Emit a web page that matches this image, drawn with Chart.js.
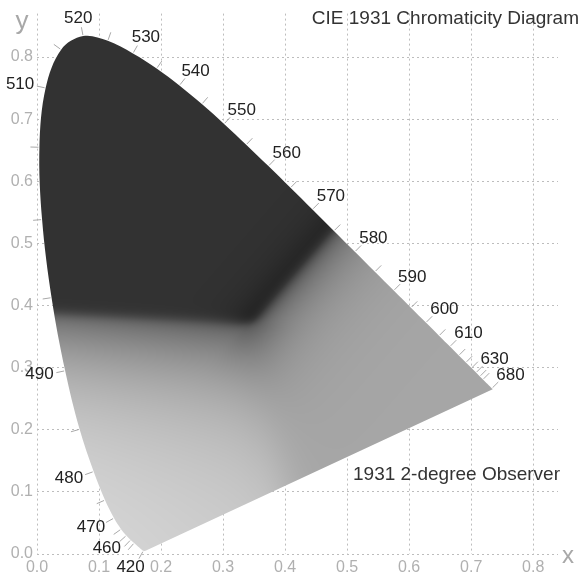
<!DOCTYPE html>
<html>
<head>
<meta charset="utf-8">
<script src="https://cdn.jsdelivr.net/npm/chart.js@4.4.0/dist/chart.umd.min.js"></script>
<style>
  body { margin: 0; background: #fff; }
  canvas { display: block; }
</style>
</head>
<body>
<canvas id="cie" width="582" height="584"></canvas>
<script>
// CIE 1931 2-degree spectral locus (nm -> x, y)
const wavelengths = [380, 385, 390, 395, 400, 405, 410, 415, 420, 425, 430, 435, 440, 445, 450, 455,
  460, 465, 470, 475, 480, 485, 490, 495, 500, 505, 510, 515, 520, 525, 530, 535, 540, 545, 550, 555,
  560, 565, 570, 575, 580, 585, 590, 595, 600, 605, 610, 615, 620, 625, 630, 635, 640, 645, 650, 655,
  660, 665, 670, 675, 680, 685, 690, 695, 700];
const locusX = [0.1741, 0.1740, 0.1738, 0.1736, 0.1733, 0.1730, 0.1726, 0.1721, 0.1714, 0.1703, 0.1689,
  0.1669, 0.1644, 0.1611, 0.1566, 0.1510, 0.1440, 0.1355, 0.1241, 0.1096, 0.0913, 0.0687, 0.0454,
  0.0235, 0.0082, 0.0039, 0.0139, 0.0389, 0.0743, 0.1142, 0.1547, 0.1929, 0.2296, 0.2658, 0.3016,
  0.3373, 0.3731, 0.4087, 0.4441, 0.4788, 0.5125, 0.5448, 0.5752, 0.6029, 0.6270, 0.6482, 0.6658,
  0.6801, 0.6915, 0.7006, 0.7079, 0.7140, 0.7190, 0.7230, 0.7260, 0.7283, 0.7300, 0.7311, 0.7320,
  0.7327, 0.7334, 0.7340, 0.7344, 0.7346, 0.7347];
const locusY = [0.0050, 0.0050, 0.0049, 0.0049, 0.0048, 0.0048, 0.0048, 0.0048, 0.0051, 0.0058, 0.0069,
  0.0086, 0.0109, 0.0138, 0.0177, 0.0227, 0.0297, 0.0399, 0.0578, 0.0868, 0.1327, 0.2007, 0.2950,
  0.4127, 0.5384, 0.6548, 0.7502, 0.8120, 0.8338, 0.8262, 0.8059, 0.7816, 0.7543, 0.7243, 0.6923,
  0.6589, 0.6245, 0.5896, 0.5547, 0.5202, 0.4866, 0.4544, 0.4242, 0.3965, 0.3725, 0.3514, 0.3340,
  0.3197, 0.3083, 0.2993, 0.2920, 0.2859, 0.2809, 0.2770, 0.2740, 0.2717, 0.2700, 0.2689, 0.2680,
  0.2673, 0.2666, 0.2660, 0.2656, 0.2654, 0.2653];

const labelWl = [420, 460, 470, 480, 490, 510, 520, 530, 540, 550, 560, 570, 580, 590, 600, 610, 630, 680];
const tickWl = [420, 450, 455, 460, 465, 470, 475, 480, 485, 490, 495, 500, 505, 510, 515, 520, 525, 530,
  535, 540, 545, 550, 555, 560, 565, 570, 575, 580, 585, 590, 595, 600, 605, 610, 615, 620, 625, 630, 635, 640, 680];

const xTicks = [0.0, 0.1, 0.2, 0.3, 0.4, 0.5, 0.6, 0.7, 0.8];
const yTicks = [0.0, 0.1, 0.2, 0.3, 0.4, 0.5, 0.6, 0.7, 0.8];

const FONT = '"Liberation Sans", Arial, sans-serif';

// grey shading of the gamut, a rough look-alike of the original rendering
function sig(t) { return 1 / (1 + Math.exp(-t)); }
function shadeAt(x, y) {
  const u = x - 0.345, v = y - 0.372;
  const s1 = 0.656 * v - 0.755 * u;   // > 0 : upper (dark) side of the 49deg line
  const s2 = v + 0.05 * u;            // > 0 : above the dark / light border
  const s3 = 0.208 * v + 0.978 * u;   // > 0 : right of the -78deg line
  let wD = sig(s1 / 0.006) * sig(s2 / 0.005);
  let wM = sig(-s1 / 0.006) * sig(s3 / 0.02);
  let wL = sig(-s2 / 0.005) * sig(-s3 / 0.02);
  const sum = wD + wM + wL;
  wD /= sum; wM /= sum; wL /= sum;
  const gD = 50 - 26 * Math.exp(-Math.max(s1, 0) / 0.025);
  const gM = 166 - 82 * Math.exp(-Math.max(-s1, 0) / 0.05);
  const t = Math.max(-s2, 0);
  const gL = 92 + 115 * (1 - Math.exp(-t / 0.11)) + 12 * Math.min(Math.max(-u / 0.3, 0), 1);
  return wD * gD + wM * gM + wL * gL;
}

function buildShade(chart) {
  const c = document.createElement('canvas');
  c.width = chart.width; c.height = chart.height;
  const g = c.getContext('2d');
  const img = g.createImageData(c.width, c.height);
  const xs = chart.scales.x, ys = chart.scales.y;
  const a = chart.chartArea;
  for (let py = Math.floor(a.top); py < Math.ceil(a.bottom); py++) {
    const yv = ys.getValueForPixel(py + 0.5);
    for (let px = Math.floor(a.left); px < Math.ceil(a.right); px++) {
      const xv = xs.getValueForPixel(px + 0.5);
      const k = Math.round(shadeAt(xv, yv));
      const i = (py * c.width + px) * 4;
      img.data[i] = k; img.data[i + 1] = k; img.data[i + 2] = k; img.data[i + 3] = 255;
    }
  }
  g.putImageData(img, 0, 0);
  return c;
}

const shadePlugin = {
  id: 'shade',
  beforeDatasetsDraw(chart) {
    const meta = chart.getDatasetMeta(0);
    const ctx = chart.ctx;
    if (!chart.$shade) chart.$shade = buildShade(chart);
    ctx.save();
    ctx.beginPath();
    meta.dataset.path(ctx);   // smooth locus from the line element
    ctx.closePath();          // purple line
    ctx.fillStyle = ctx.createPattern(chart.$shade, 'no-repeat');
    ctx.fill();
    ctx.restore();
  }
};

// wavelength ticks, labels and the captions
const labelPlugin = {
  id: 'labels',
  afterDraw(chart) {
    const pts = chart.getDatasetMeta(0).data;
    const ctx = chart.ctx;
    const normal = (i) => {
      const a = pts[Math.max(i - 1, 0)], b = pts[Math.min(i + 1, pts.length - 1)];
      let tx = b.x - a.x, ty = b.y - a.y;
      const l = Math.hypot(tx, ty) || 1;
      return [ty / l, -tx / l];
    };
    ctx.save();
    ctx.strokeStyle = '#a8a8a8';
    ctx.lineWidth = 1;
    tickWl.forEach(wl => {
      const i = wavelengths.indexOf(wl);
      const p = pts[i], n = normal(i);
      ctx.beginPath();
      ctx.moveTo(p.x + n[0], p.y + n[1]);
      ctx.lineTo(p.x + n[0] * 9, p.y + n[1] * 9);
      ctx.stroke();
    });
    ctx.font = '17px ' + FONT;
    ctx.fillStyle = '#222';
    ctx.textAlign = 'center';
    ctx.textBaseline = 'middle';
    labelWl.forEach(wl => {
      const i = wavelengths.indexOf(wl);
      const p = pts[i], n = normal(i);
      const w = ctx.measureText(String(wl)).width, h = 13;
      ctx.fillText(String(wl), p.x + n[0] * (12 + w / 2), p.y + n[1] * (12 + h / 2));
    });

    ctx.fillStyle = '#333';
    ctx.textAlign = 'right';
    ctx.textBaseline = 'alphabetic';
    ctx.font = '19px ' + FONT;
    ctx.fillText('CIE 1931 Chromaticity Diagram', 579, 24);
    ctx.textAlign = 'left';
    ctx.fillText('1931 2-degree Observer', 353, 480);

    ctx.fillStyle = '#a8a8a8';
    ctx.textAlign = 'center';
    ctx.font = '24px ' + FONT;
    ctx.fillText('x', 568, 563);
    ctx.font = '26px ' + FONT;
    ctx.fillText('y', 22, 29);
    ctx.restore();
  }
};

const gridStyle = { color: '#bdbdbd', lineWidth: 1, drawTicks: false };
const tickStyle = { color: '#b0b0b0', font: { family: FONT, size: 16 }, padding: 4 };

new Chart(document.getElementById('cie'), {
  type: 'scatter',
  data: {
    datasets: [{
      data: wavelengths.map((wl, i) => ({ x: locusX[i], y: locusY[i] })),
      showLine: true,
      fill: false,
      borderColor: 'rgba(0,0,0,0)',
      borderWidth: 0,
      pointRadius: 0,
      tension: 0.35
    }]
  },
  options: {
    responsive: false,
    animation: false,
    layout: { padding: { left: 0, right: 24, top: 12, bottom: 0 } },
    plugins: { legend: { display: false }, tooltip: { enabled: false } },
    scales: {
      x: {
        type: 'linear', min: 0, max: 0.84, z: 1,
        afterBuildTicks: s => { s.ticks = xTicks.map(v => ({ value: v })); },
        afterFit: s => { s.height = 30; },
        grid: gridStyle,
        border: { display: false, dash: [2, 3] },
        ticks: Object.assign({ callback: v => v.toFixed(1) }, tickStyle)
      },
      y: {
        type: 'linear', min: 0, max: 0.87, z: 1,
        afterBuildTicks: s => { s.ticks = yTicks.map(v => ({ value: v })); },
        afterFit: s => { s.width = 37; },
        grid: gridStyle,
        border: { display: false, dash: [2, 3] },
        ticks: Object.assign({ callback: v => v.toFixed(1) }, tickStyle)
      }
    }
  },
  plugins: [shadePlugin, labelPlugin]
});
</script>
</body>
</html>
